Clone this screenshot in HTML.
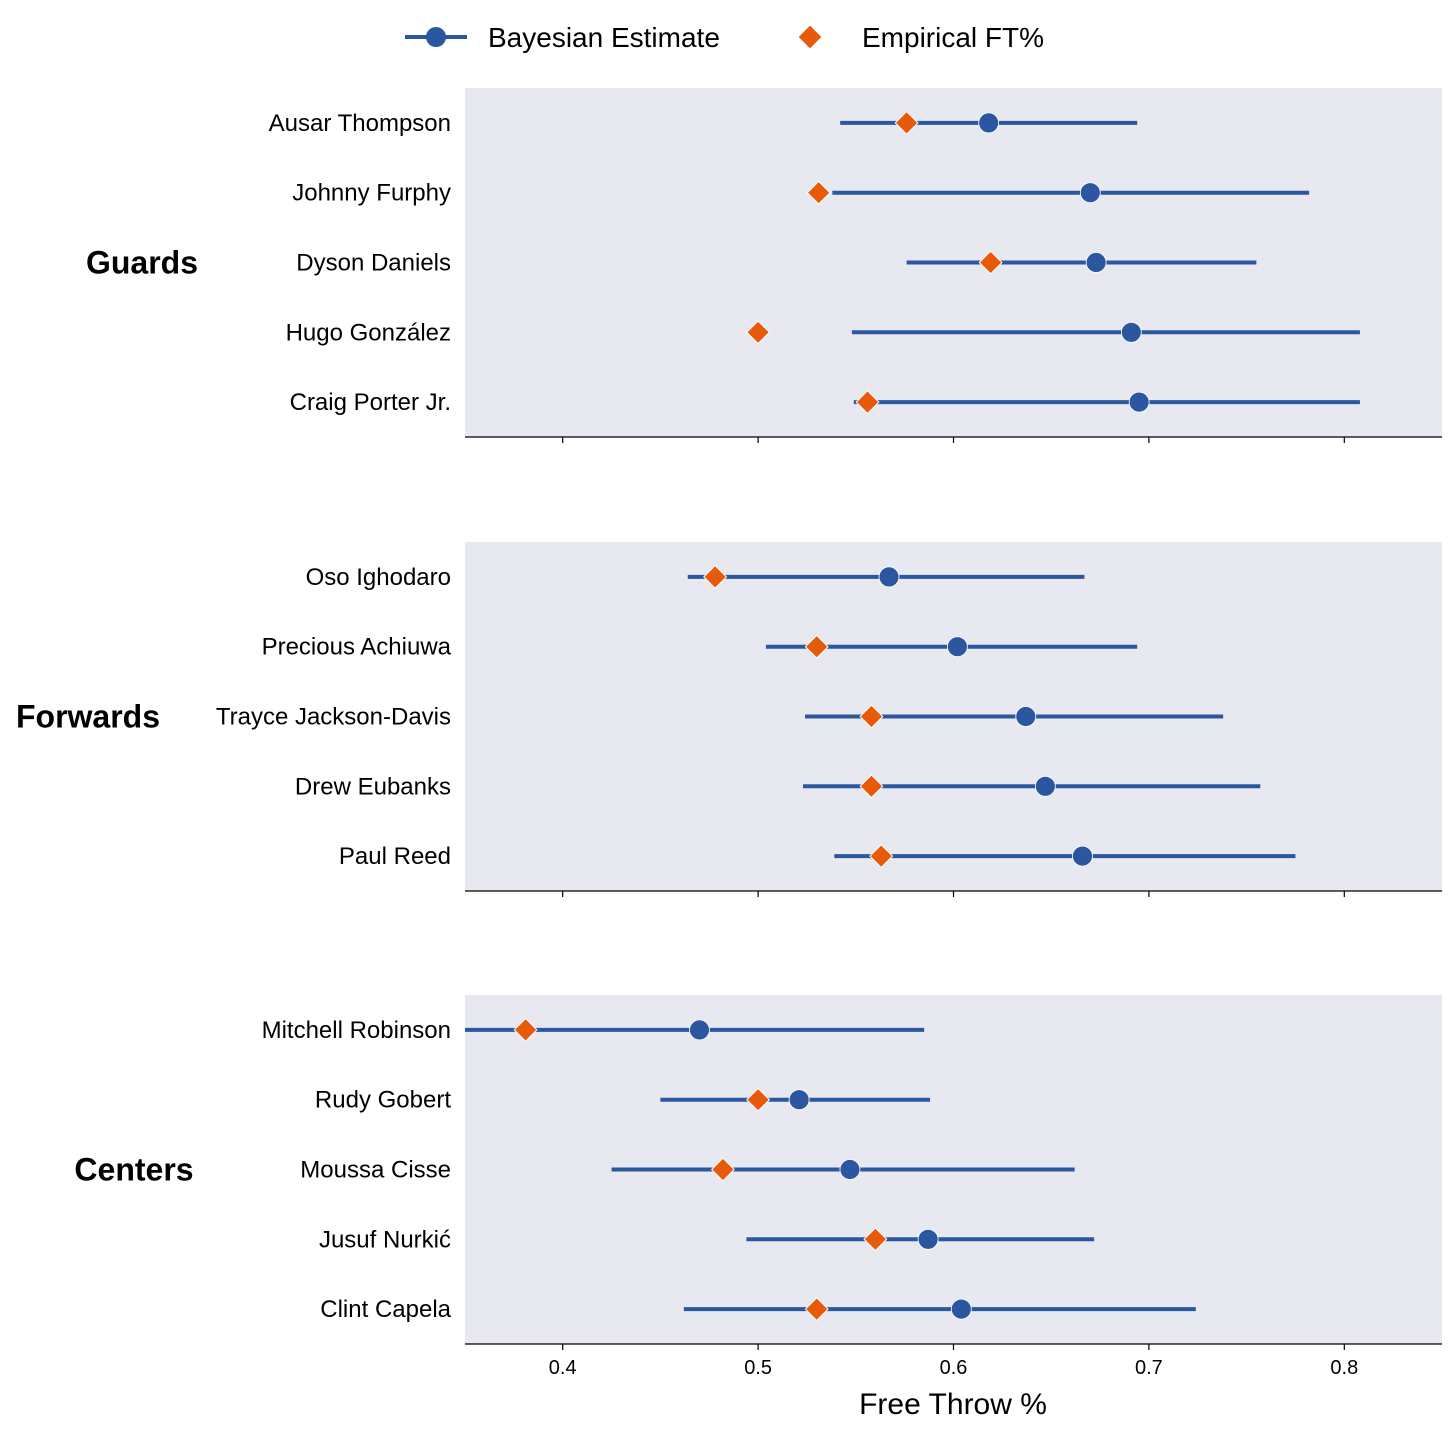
<!DOCTYPE html>
<html><head><meta charset="utf-8"><style>
body{margin:0;background:#fff;}
svg{display:block;font-family:"Liberation Sans",Arial,sans-serif;}
</style></head><body>
<svg id="chart" width="1456" height="1435" viewBox="0 0 1456 1435">
  <g>
    <line x1="405" y1="37" x2="467" y2="37" stroke="#2b57a0" stroke-width="4"/>
    <circle cx="436" cy="37" r="10" fill="#2b57a0"/>
    <text x="488" y="47" font-size="28" fill="#000">Bayesian Estimate</text>
    <rect x="802" y="29" width="16" height="16" fill="#e65a0a" transform="rotate(45 810 37)"/>
    <text x="862" y="47" font-size="28" fill="#000">Empirical FT%</text>
  </g>
  <g id="plots"></g>
  <text x="953" y="1414" font-size="30" text-anchor="middle" fill="#000">Free Throw %</text>
</svg>
<script>
const groups = ["Guards","Forwards","Centers"];
const players = [
  ["Ausar Thompson","Johnny Furphy","Dyson Daniels","Hugo González","Craig Porter Jr."],
  ["Oso Ighodaro","Precious Achiuwa","Trayce Jackson-Davis","Drew Eubanks","Paul Reed"],
  ["Mitchell Robinson","Rudy Gobert","Moussa Cisse","Jusuf Nurkić","Clint Capela"]
];
const estimates = [
  [0.618,0.670,0.673,0.691,0.695],
  [0.567,0.602,0.637,0.647,0.666],
  [0.470,0.521,0.547,0.587,0.604]
];
const lowers = [
  [0.542,0.538,0.576,0.548,0.549],
  [0.464,0.504,0.524,0.523,0.539],
  [0.340,0.450,0.425,0.494,0.462]
];
const uppers = [
  [0.694,0.782,0.755,0.808,0.808],
  [0.667,0.694,0.738,0.757,0.775],
  [0.585,0.588,0.662,0.672,0.724]
];
const empirical = [
  [0.576,0.531,0.619,0.500,0.556],
  [0.478,0.530,0.558,0.558,0.563],
  [0.381,0.500,0.482,0.560,0.530]
];
const xTicks = [0.4,0.5,0.6,0.7,0.8];

const NS="http://www.w3.org/2000/svg";
const root=document.getElementById('plots');
const L=465,R=1442,X0=0.35,X1=0.85;
const xs=v=>L+(v-X0)/(X1-X0)*(R-L);
const panelTops=[88,542,995], PH=349;
const groupX=[142,88,134];
function mk(tag,attrs,parent){const e=document.createElementNS(NS,tag);for(const k in attrs)e.setAttribute(k,attrs[k]);parent.appendChild(e);return e;}
groups.forEach((g,gi)=>{
  const top=panelTops[gi];
  const ys=i=>top+(i+0.5)*PH/5;
  const pg=mk('g',{},root);
  
  
  const clipId='clip'+gi;
  const cp=mk('clipPath',{id:clipId},pg);
  mk('rect',{x:L,y:top,width:R-L,height:PH},cp);
  const bg=mk('rect',{x:L,y:top,width:R-L,height:PH,fill:'#e8e8f0'},pg);
  
  
  const gl=mk('text',{x:groupX[gi],y:top+PH/2+11,'font-size':32,'font-weight':'bold','text-anchor':'middle',fill:'#000'},pg);
  gl.textContent=g;
  
  
  const marks=mk('g',{'clip-path':'url(#'+clipId+')'},pg);
  players[gi].forEach((p,i)=>{
    const y=ys(i);
    const lab=mk('text',{x:451,y:y+8,'font-size':24,'text-anchor':'end',fill:'#000'},pg);
    lab.textContent=p;
    
    
    const ln=mk('line',{x1:xs(lowers[gi][i]),x2:xs(uppers[gi][i]),y1:y,y2:y,stroke:'#2b57a0','stroke-width':4},marks);
    
    
    const c=mk('circle',{cx:xs(estimates[gi][i]),cy:y,r:10,fill:'#2b57a0',stroke:'#fff','stroke-width':0.8},marks);
    
    
    const ex=xs(empirical[gi][i]);
    const d=mk('rect',{x:ex-8,y:y-8,width:16,height:16,fill:'#e65a0a',stroke:'#fff','stroke-width':1,transform:`rotate(45 ${ex} ${y})`},marks);
    
    
  });
  const ax=mk('line',{x1:L,x2:R,y1:top+PH,y2:top+PH,stroke:'#000','stroke-width':1.3},pg);
  
  
  xTicks.forEach(t=>{
    mk('line',{x1:xs(t),x2:xs(t),y1:top+PH,y2:top+PH+6,stroke:'#000','stroke-width':1.2},pg);
    if(gi===2){
      const tl=mk('text',{x:xs(t),y:top+PH+30,'font-size':20,'text-anchor':'middle',fill:'#000'},pg);
      tl.textContent=t.toFixed(1);
      
      
    }
  });
});
</script>
</body></html>
